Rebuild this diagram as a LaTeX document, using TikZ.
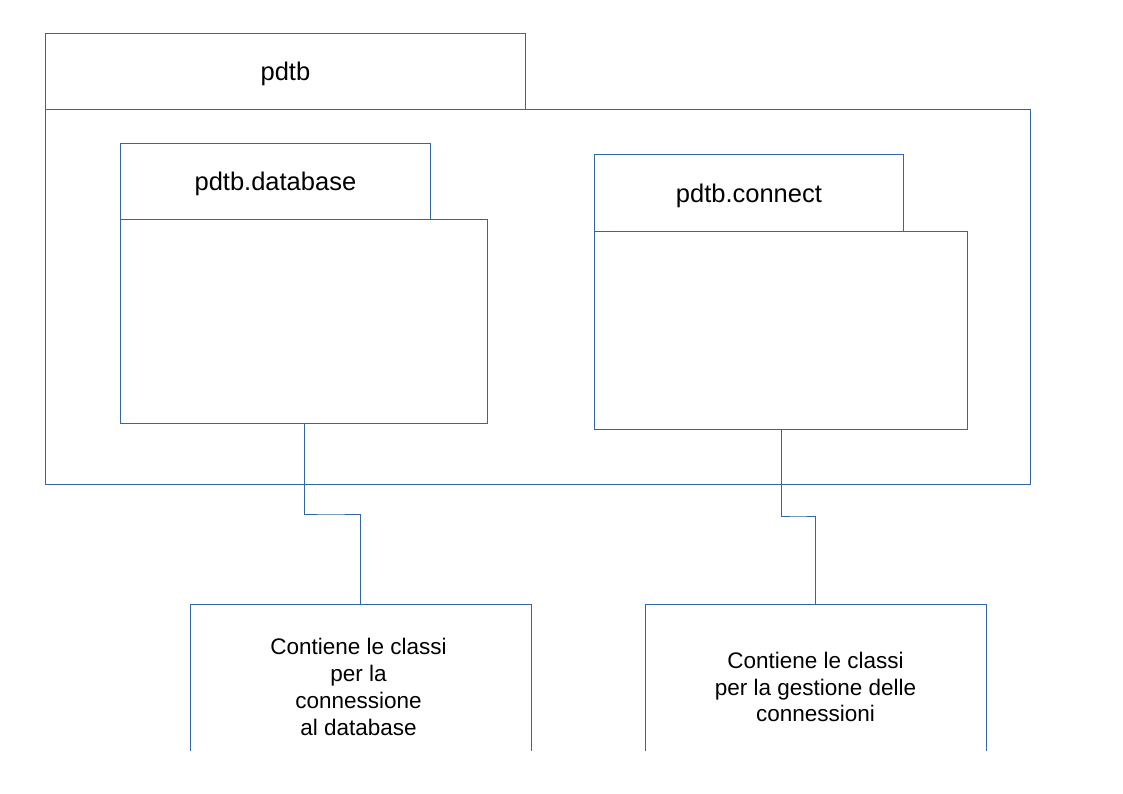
\documentclass[tikz,border=0pt]{standalone}
\usepackage{fontspec}
\setmainfont{Liberation Sans}
\definecolor{umlblue}{HTML}{3465A4}

\begin{document}
\begin{tikzpicture}[x=1pt,y=-1pt]
	\tikzstyle{box} = [rectangle, draw=umlblue, line width=0.8pt, inner sep=0pt, anchor=north west];
	\tikzstyle{wire} = [draw=umlblue, line width=0.8pt];
	\tikzstyle{title} = [font=\fontsize{25.5}{30}\selectfont, text depth=0pt];
	\tikzstyle{note} = [align=center, font=\fontsize{22.5}{26.7}\selectfont];

	\useasboundingbox (0,0) rectangle (1123,794);

	\node[box, title, minimum width=480pt, minimum height=76pt] at (45, 33) (pdtbtab) {pdtb};
	\node[box, minimum width=985pt, minimum height=375pt] at (45, 109) (pdtb) {};

	\node[box, title, minimum width=310pt, minimum height=76pt] at (120, 143) (dbtab) {pdtb.database};
		\node[box, minimum width=367pt, minimum height=204pt] at (120, 219) (db) {};

	\node[box, title, minimum width=309pt, minimum height=77pt] at (594, 154) (cntab) {pdtb.connect};
		\node[box, minimum width=373pt, minimum height=198pt] at (594, 231) (cn) {};

	\node[minimum width=341pt, minimum height=147pt, inner sep=0pt, anchor=north west] at (190, 604) (dbnote) {};
	\node[minimum width=341pt, minimum height=147pt, inner sep=0pt, anchor=north west] at (645, 604) (cnnote) {};
	\draw[wire] (dbnote.south west) |- (dbnote.north east) -- (dbnote.south east);
	\draw[wire] (cnnote.south west) |- (cnnote.north east) -- (cnnote.south east);

	\node[note] at (358.5, 687) (dbtext) {Contiene le classi\\per la\\connessione\\al database};
	\node[note] at (815.5, 687) (cntext) {Contiene le classi\\per la gestione delle\\connessioni};

	\coordinate (dbknee) at (330, 514);
	\coordinate (cnknee) at (798, 516);
	\draw[wire] (db.south) |- (dbknee) -| (dbnote.north);
	\draw[wire] (cn.south) |- (cnknee) -| (cnnote.north);

\end{tikzpicture}
\end{document}
